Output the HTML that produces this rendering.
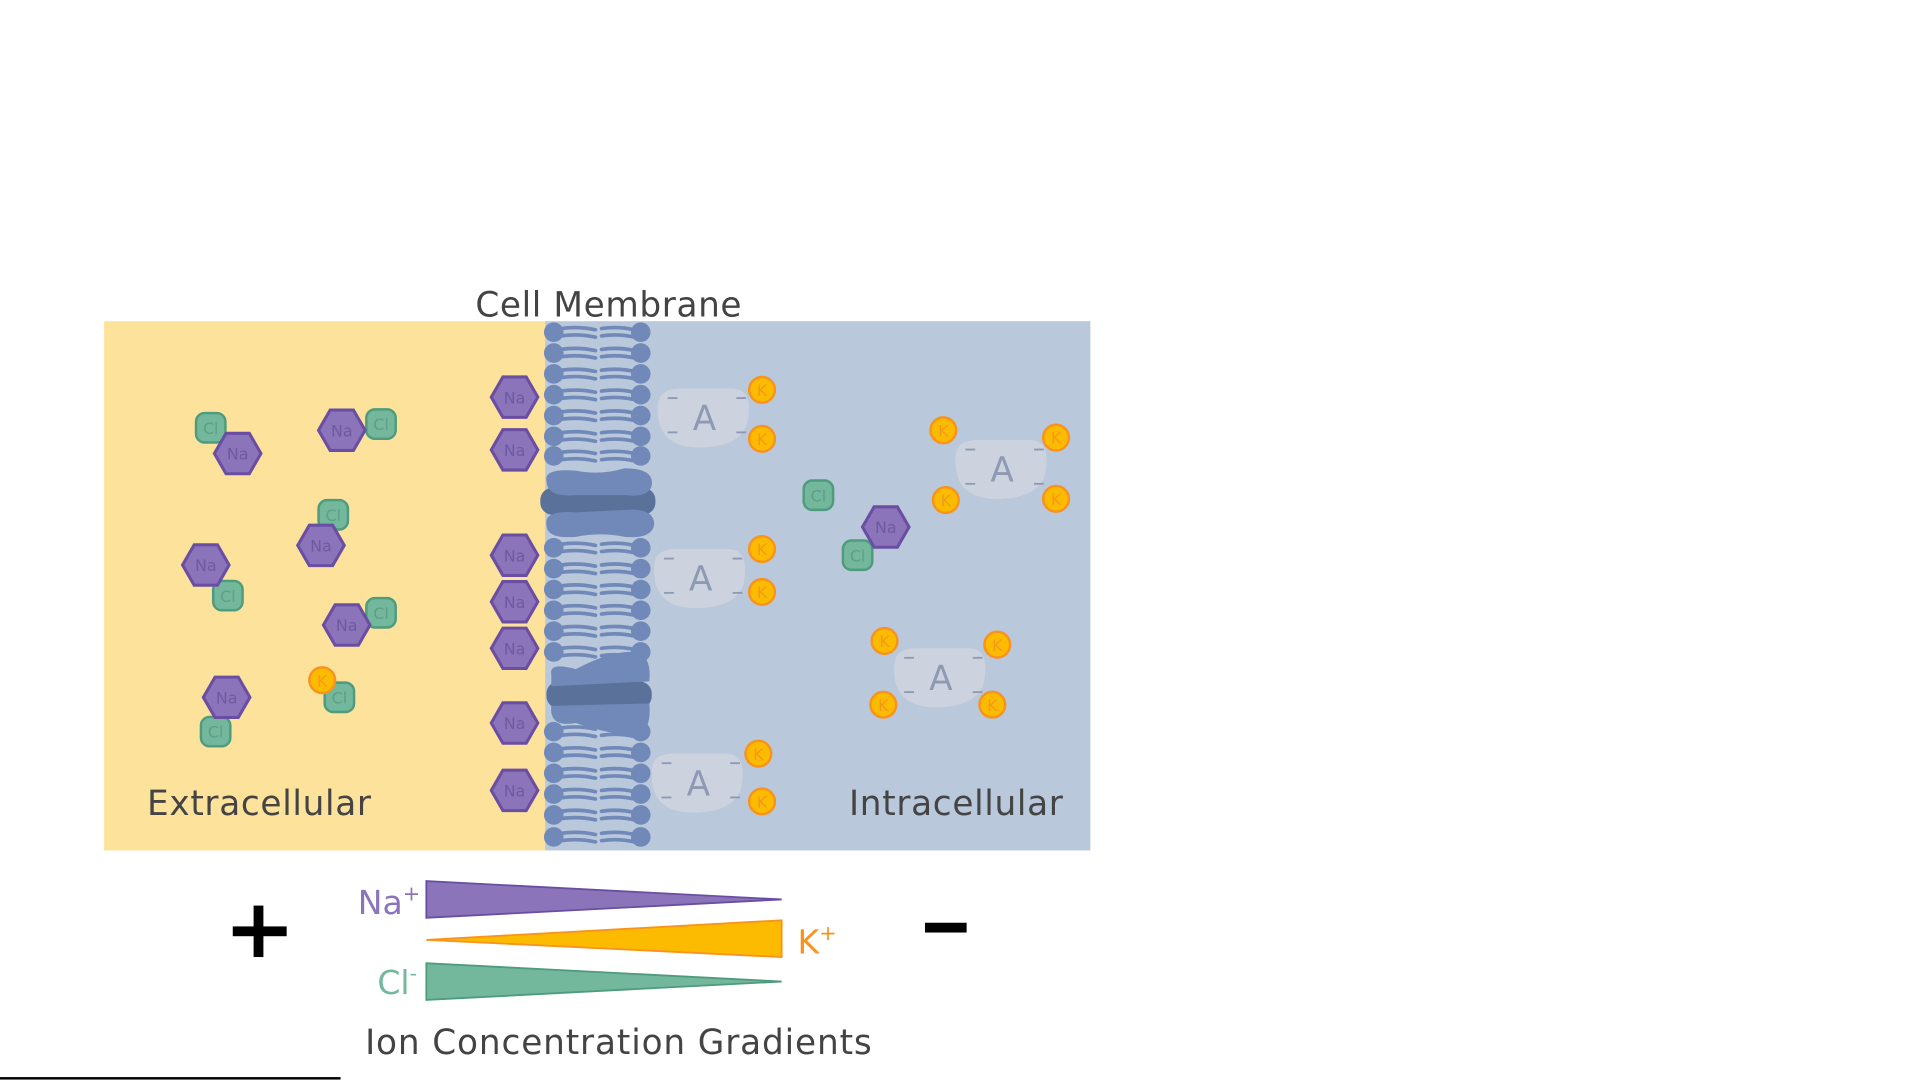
<!DOCTYPE html>
<html><head><meta charset="utf-8"><style>
html,body{margin:0;padding:0;background:#fff;width:1921px;height:1081px;overflow:hidden}
svg{display:block}
text{font-family:"DejaVu Sans","Liberation Sans",sans-serif}
</style></head><body>
<svg id="s" width="1921" height="1081" viewBox="0 0 1568 882" xmlns="http://www.w3.org/2000/svg">
<rect x="85" y="262" width="362" height="432" fill="#fde29b"/>
<rect x="445" y="262" width="445" height="432" fill="#bac8dc"/>
<g id="mem"></g>
<g id="ions"></g>
<text x="388" y="258" font-size="28" fill="#444" letter-spacing="0.5">Cell Membrane</text>
<text x="120" y="665" font-size="28" fill="#444" letter-spacing="0.55">Extracellular</text>
<text x="693" y="665" font-size="28" fill="#444" letter-spacing="0.55">Intracellular</text>
<polygon points="348,719 348,749 638,734" fill="#8b74b9" stroke="#6a4ea3" stroke-width="1.5"/>
<polygon points="348,767 638,751 638,781" fill="#fdbb00" stroke="#f7931e" stroke-width="1.5"/>
<polygon points="348,786 348,816 638,801" fill="#73b79c" stroke="#4e9c7d" stroke-width="1.5"/>
<text x="292" y="746" font-size="27" fill="#8b74b9">Na<tspan font-size="17" dy="-11">+</tspan></text>
<text x="651" y="778" font-size="27" fill="#f7931e">K<tspan font-size="17" dy="-11">+</tspan></text>
<text x="308" y="811" font-size="27" fill="#73b79c">Cl<tspan font-size="17" dy="-11">-</tspan></text>
<rect x="190" y="756" width="44" height="8" fill="#000"/>
<rect x="207" y="739" width="8" height="42" fill="#000"/>
<rect x="755" y="753" width="34" height="8" fill="#000"/>
<text x="298" y="860" font-size="28" fill="#444" letter-spacing="0.7">Ion Concentration Gradients</text>
<rect x="0" y="879" width="278" height="2" fill="#000"/>
</svg>
<script>
const NS="http://www.w3.org/2000/svg";
function el(p,t,a,txt){const e=document.createElementNS(NS,t);for(const k in a)e.setAttribute(k,a[k]);if(txt)e.textContent=txt;p.appendChild(e);return e;}
const mem=document.getElementById('mem'),ions=document.getElementById('ions');
const rows=[271,288,305,322,339,356,372,447,464,481,498,515,532,597,614,631,648,665,683];
const tc="#7189b8";
rows.forEach(y=>{
 el(mem,'path',{d:`M458 ${y-3} Q472 ${y-5} 486 ${y-2} M458 ${y+3} Q472 ${y+1} 486 ${y+4} M491 ${y-3} Q504 ${y-5} 518 ${y-2} M491 ${y+3} Q504 ${y+1} 518 ${y+4}`,stroke:tc,'stroke-width':3,fill:'none','stroke-linecap':'round'});
 el(mem,'circle',{cx:452,cy:y,r:8,fill:tc});
 el(mem,'circle',{cx:523,cy:y,r:8,fill:tc});
});
el(mem,'rect',{x:441,y:398,width:94,height:22,rx:10,fill:'#5a7199'});
el(mem,'path',{d:'M446 392 Q444 382 470 384 Q490 388 510 382 Q534 382 532 396 Q530 406 510 404 L470 404 Q446 406 446 392Z',fill:tc});
el(mem,'path',{d:'M446 428 Q444 416 470 418 L510 416 Q534 414 534 428 Q532 440 510 438 Q490 434 470 438 Q446 440 446 428Z',fill:tc});
el(mem,'rect',{x:446,y:556,width:86,height:22,rx:10,fill:'#5a7199'});
el(mem,'path',{d:'M450 550 Q448 540 470 546 Q500 530 520 532 Q532 536 530 556 L450 560Z',fill:tc});
el(mem,'path',{d:'M450 576 L530 574 Q532 596 520 600 Q500 600 470 590 Q448 594 450 576Z',fill:tc});
function A(cx,cy){
 el(ions,'path',{d:`M${cx-38} ${cy-10} Q${cx-38} ${cy-24} ${cx-20} ${cy-24} L${cx+22} ${cy-24} Q${cx+38} ${cy-24} ${cx+36} ${cy-4} Q${cx+36} ${cy+22} ${cx} ${cy+24} Q${cx-40} ${cy+26} ${cx-38} ${cy-10}Z`,fill:'#cdd3de'});
 el(ions,'text',{x:cx,y:cy+10,'font-size':28,fill:'#8e9ab3','text-anchor':'middle'},'A');
 [[-30,-17],[26,-17],[-30,11],[26,11]].forEach(([dx,dy])=>el(ions,'rect',{x:cx+dx,y:cy+dy,width:8,height:1.5,fill:'#8e9ab3'}));
}
[[575,341],[572,472],[570,639],[818,383],[768,553]].forEach(p=>A(...p));
function Cl(x,y){el(ions,'rect',{x:x-12,y:y-12,width:24,height:24,rx:7,fill:'#73b79c',stroke:'#4e9c7d','stroke-width':2});
 el(ions,'text',{x:x,y:y+5,'font-size':13,fill:'#5e9f86','text-anchor':'middle'},'Cl');}
function Na(x,y){const r=19;let pts=[];for(let i=0;i<6;i++){const a=Math.PI/3*i;pts.push((x+r*Math.cos(a)).toFixed(1)+','+(y+r*Math.sin(a)).toFixed(1));}
 el(ions,'polygon',{points:pts.join(' '),fill:'#8b74b9',stroke:'#6a4ea3','stroke-width':2.5});
 el(ions,'text',{x:x,y:y+5,'font-size':13,fill:'#6f5aa0','text-anchor':'middle'},'Na');}
function K(x,y){el(ions,'circle',{cx:x,cy:y,r:10.5,fill:'#fdbb00',stroke:'#f7931e','stroke-width':2});
 el(ions,'text',{x:x,y:y+5,'font-size':13,fill:'#f39a1a','text-anchor':'middle'},'K');}
[[172,349],[311,346],[272,420],[186,486],[311,500],[277,569],[176,597],[668,404],[700,453]].forEach(p=>Cl(...p));
[[194,370],[279,351],[168,461],[262,445],[283,510],[185,569],[420,324],[420,367],[420,453],[420,491],[420,529],[420,590],[420,645],[723,430]].forEach(p=>Na(...p));
[[263,555],[622,318],[622,358],[770,351],[862,357],[772,408],[862,407],[622,448],[622,483],[722,523],[814,526],[721,575],[810,575],[619,615],[622,654]].forEach(p=>K(...p));
</script>
</body></html>
